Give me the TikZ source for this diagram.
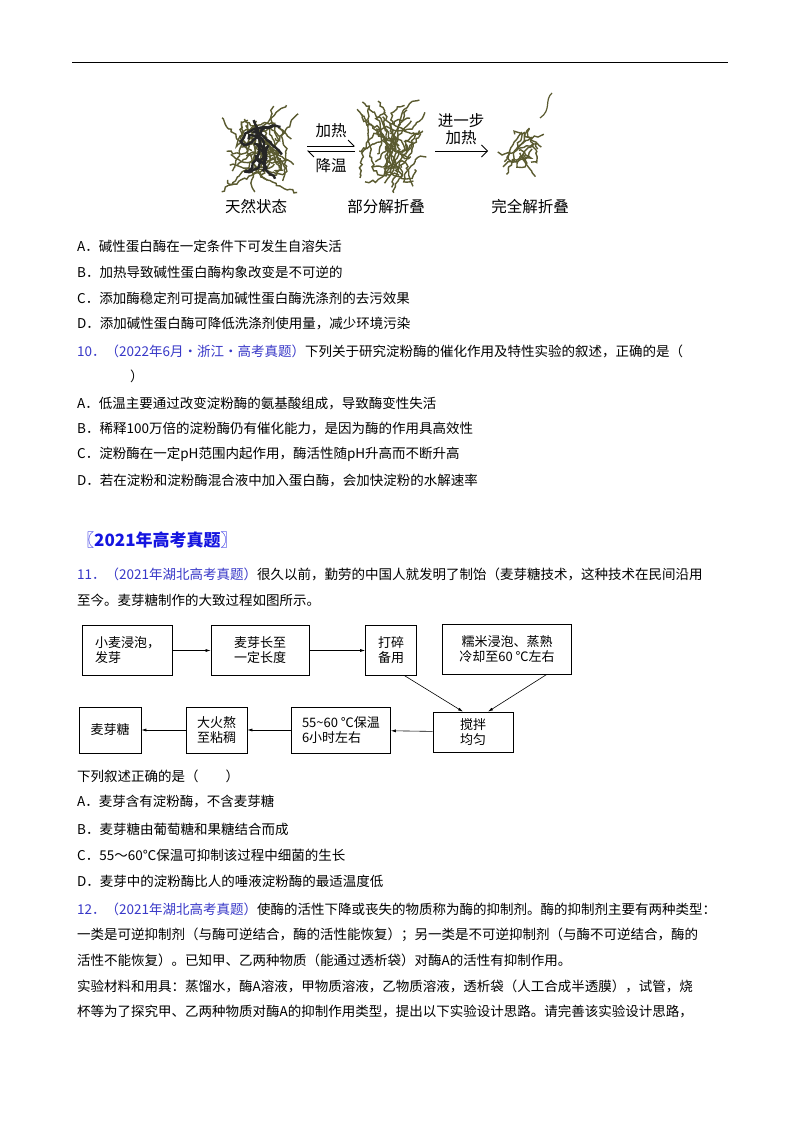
\documentclass[tikz,border=0pt]{standalone}
\usepackage{fontspec}
\setmainfont{Noto Sans CJK SC}
\usetikzlibrary{arrows.meta,decorations.pathmorphing}
\definecolor{qblue}{HTML}{3838C8}
\definecolor{hblue}{HTML}{1515E0}
\definecolor{prot}{HTML}{5A5A30}
\begin{document}
\begin{tikzpicture}[x=1pt,y=-1pt,
  txt/.style={anchor=west,inner sep=0pt,font=\fontsize{13.5}{14}\selectfont},
  fbox/.style={draw,line width=0.7pt,align=center,inner sep=0pt,font=\fontsize{13}{15}\selectfont},
  farr/.style={-{Latex[length=5pt,width=3pt]},line width=0.6pt},
  squig/.style={prot,line width=1.4pt,decorate,decoration={random steps,segment length=3pt,amplitude=1.5pt}},
  dsquig/.style={black!85,line width=2.4pt,decorate,decoration={random steps,segment length=4pt,amplitude=1.5pt}},
  lab/.style={inner sep=0pt,font=\fontsize{15.5}{16}\selectfont}]
\useasboundingbox (0,0) rectangle (800,1132);
\fill[white] (0,0) rectangle (800,1132);
\draw[line width=1pt] (72,63) -- (728,63);
% proteins
\pgfmathsetseed{7}
\foreach \cx/\cy/\rx/\ry in {260/148/40/45,393/148/38/48}{
  \foreach \i in {1,...,22}{
    \draw[squig] ({\cx+rand*\rx},{\cy+rand*\ry}) .. controls ({\cx+rand*\rx},{\cy+rand*\ry}) and ({\cx+rand*\rx},{\cy+rand*\ry}) .. ({\cx+rand*\rx},{\cy+rand*\ry});
  }
}
\foreach \i in {1,...,7}{
  \draw[dsquig] ({255+rand*28},{150+rand*32}) .. controls ({255+rand*30},{150+rand*35}) and ({255+rand*30},{150+rand*35}) .. ({255+rand*28},{150+rand*32});
}
\foreach \i in {1,...,9}{
  \draw[squig] ({522+rand*22},{150+rand*30}) .. controls ({522+rand*28},{150+rand*35}) and ({522+rand*28},{150+rand*35}) .. ({522+rand*22},{150+rand*30});
}
\draw[prot,line width=1.2pt] (540,118) .. controls (552,110) and (544,100) .. (552,93);
\node[lab] (t1) at (256,207) {天然状态};
\node[lab] (t2) at (386,207) {部分解折叠};
\node[lab] (t3) at (530,207) {完全解折叠};
\coordinate (a1) at (307,146); \coordinate (a2) at (355,146);
\coordinate (b1) at (307,151); \coordinate (b2) at (355,151);
\draw[line width=0.8pt,-{Straight Barb[left,length=6pt]}] (a1) -- (a2);
\draw[line width=0.8pt,-{Straight Barb[left,length=6pt]}] (b2) -- (b1);
\node[lab] (h1) at (331,131) {加热};
\node[lab] (h2) at (331,166) {降温};
\coordinate (c1) at (435,151); \coordinate (c2) at (488,151);
\draw[line width=0.8pt,-{Straight Barb[length=6pt]}] (c1) -- (c2);
\node[lab] (j1) at (461,121) {进一步};
\node[lab] (j2) at (461,138) {加热};
% text block 1
\node[txt] (l1) at (77,246) {A．碱性蛋白酶在一定条件下可发生自溶失活};
\node[txt] (l2) at (77,272) {B．加热导致碱性蛋白酶构象改变是不可逆的};
\node[txt] (l3) at (77,298) {C．添加酶稳定剂可提高加碱性蛋白酶洗涤剂的去污效果};
\node[txt] (l4) at (77,324) {D．添加碱性蛋白酶可降低洗涤剂使用量，减少环境污染};
\node[txt] (q10) at (77,351) {\textcolor{qblue}{10．（2022年6月·浙江·高考真题）}下列关于研究淀粉酶的催化作用及特性实验的叙述，正确的是（};
\node[txt] (q10b) at (130,376) {）};
\node[txt] (m1) at (77,403) {A．低温主要通过改变淀粉酶的氨基酸组成，导致酶变性失活};
\node[txt] (m2) at (77,428) {B．稀释100万倍的淀粉酶仍有催化能力，是因为酶的作用具高效性};
\node[txt] (m3) at (77,454) {C．淀粉酶在一定pH范围内起作用，酶活性随pH升高而不断升高};
\node[txt] (m4) at (77,480) {D．若在淀粉和淀粉酶混合液中加入蛋白酶，会加快淀粉的水解速率};
\node[txt,font=\fontsize{17}{18}\selectfont\bfseries,text=hblue] (hd) at (77,540) {〖2021年高考真题〗};
\node[txt] (q11) at (77,574) {\textcolor{qblue}{11．（2021年湖北高考真题）}很久以前，勤劳的中国人就发明了制饴（麦芽糖技术，这种技术在民间沿用};
\node[txt] (q11b) at (77,600) {至今。麦芽糖制作的大致过程如图所示。};
% flow chart
\node[fbox,minimum width=90pt,minimum height=50pt,align=left] (f1) at (127.5,650.5) {小麦浸泡，\\发芽};
\node[fbox,minimum width=98pt,minimum height=50pt] (f2) at (260,650.5) {麦芽长至\\一定长度};
\node[fbox,minimum width=51pt,minimum height=50pt] (f3) at (391,650.5) {打碎\\备用};
\node[fbox,minimum width=129pt,minimum height=50pt] (f4) at (507,649) {糯米浸泡、蒸熟\\冷却至60 ℃左右};
\node[fbox,minimum width=80pt,minimum height=40pt] (f8) at (473,732) {搅拌\\均匀};
\node[fbox,minimum width=99pt,minimum height=46pt,align=left] (f7) at (341,730) {55\textasciitilde60 ℃保温\\6小时左右};
\node[fbox,minimum width=61pt,minimum height=46pt] (f6) at (216.5,730) {大火熬\\至粘稠};
\node[fbox,minimum width=62pt,minimum height=46pt] (f5) at (110,730) {麦芽糖};
\draw[farr] (f1) -- (f2);
\draw[farr] (f2) -- (f3);
\draw[farr] (f3.south east) ++(-12,0) -- ([xshift=-10pt]f8.north);
\draw[farr] ([xshift=-25pt]f4.south east) -- ([xshift=15pt]f8.north);
\draw[farr] (f8) -- (f7);
\draw[farr] (f7) -- (f6);
\draw[farr] (f6) -- (f5);
% text block 3
\node[txt] (n0) at (77,776) {下列叙述正确的是（\hspace{2em}）};
\node[txt] (n1) at (77,802) {A．麦芽含有淀粉酶，不含麦芽糖};
\node[txt] (n2) at (77,829) {B．麦芽糖由葡萄糖和果糖结合而成};
\node[txt] (n3) at (77,855) {C．55～60℃保温可抑制该过程中细菌的生长};
\node[txt] (n4) at (77,881) {D．麦芽中的淀粉酶比人的唾液淀粉酶的最适温度低};
\node[txt] (q12) at (77,909) {\textcolor{qblue}{12．（2021年湖北高考真题）}使酶的活性下降或丧失的物质称为酶的抑制剂。酶的抑制剂主要有两种类型：};
\node[txt] (p2) at (77,935) {一类是可逆抑制剂（与酶可逆结合，酶的活性能恢复）；另一类是不可逆抑制剂（与酶不可逆结合，酶的};
\node[txt] (p3) at (77,960) {活性不能恢复）。已知甲、乙两种物质（能通过透析袋）对酶A的活性有抑制作用。};
\node[txt] (p4) at (77,986) {实验材料和用具：蒸馏水，酶A溶液，甲物质溶液，乙物质溶液，透析袋（人工合成半透膜），试管，烧};
\node[txt] (p5) at (77,1011) {杯等为了探究甲、乙两种物质对酶A的抑制作用类型，提出以下实验设计思路。请完善该实验设计思路，};
\end{tikzpicture}
\end{document}
